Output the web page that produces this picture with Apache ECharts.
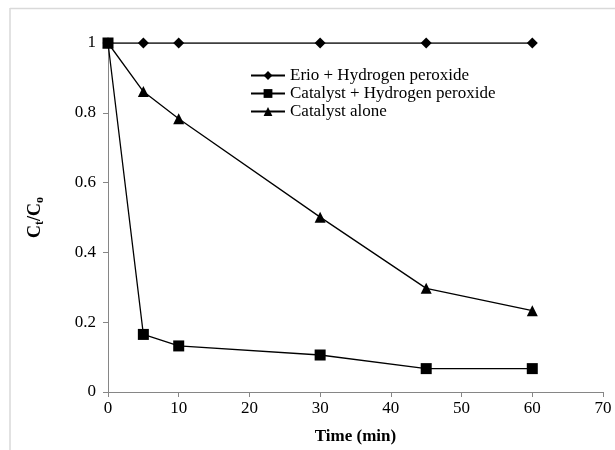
<!DOCTYPE html>
<html>
<head>
<meta charset="utf-8">
<script src="https://cdn.jsdelivr.net/npm/echarts@6/dist/echarts.min.js"></script>
<style>
html,body{margin:0;padding:0;background:#fff;}
#chart{width:615px;height:450px;}
</style>
</head>
<body>
<div id="chart"></div>
<script>
var times = [0, 5, 10, 30, 45, 60];
var erioH2O2 = [1, 1, 1, 1, 1, 1];
var catalystH2O2 = [1, 0.165, 0.132, 0.106, 0.067, 0.067];
var catalystAlone = [1, 0.861, 0.783, 0.501, 0.297, 0.233];
var seriesNames = ['Erio + Hydrogen peroxide', 'Catalyst + Hydrogen peroxide', 'Catalyst alone'];

function pairs(xs, ys) { return xs.map(function (x, i) { return [x, ys[i]]; }); }

var FONT = 'Liberation Serif';
var chart = echarts.init(document.getElementById('chart'));
var lineStyle = { color: '#000', width: 1.3 };
chart.setOption({
  animation: false,
  backgroundColor: '#fff',
  graphic: [
    { type: 'line', shape: { x1: 10, y1: 8.5, x2: 620, y2: 8.5 }, style: { stroke: '#d9d9d9', lineWidth: 1.5 } },
    { type: 'line', shape: { x1: 10, y1: 8, x2: 10, y2: 460 }, style: { stroke: '#d9d9d9', lineWidth: 1.5 } }
  ],
  grid: { left: 108, right: 12, top: 43, bottom: 56, containLabel: false },
  legend: {
    orient: 'vertical', left: 245, top: 62, itemGap: 1, itemWidth: 34, itemHeight: 11, padding: 5,
    textStyle: { fontFamily: FONT, fontSize: 17, color: '#000', lineHeight: 17 },
    data: seriesNames
  },
  xAxis: {
    type: 'value', min: 0, max: 70, interval: 10,
    name: 'Time (min)', nameLocation: 'middle', nameGap: 36,
    nameTextStyle: { fontFamily: FONT, fontSize: 17, fontWeight: 'bold', color: '#000' },
    axisLine: { lineStyle: { color: '#868686', width: 1 } },
    axisTick: { show: true, inside: false, length: 5, lineStyle: { color: '#868686' } },
    axisLabel: { fontFamily: FONT, fontSize: 17, color: '#000', margin: 8 },
    splitLine: { show: false }
  },
  yAxis: {
    type: 'value', min: 0, max: 1, interval: 0.2,
    name: '{b|C}{s|t}{b|/C}{s|o}', nameLocation: 'middle', nameGap: 62, nameRotate: 90,
    nameTextStyle: {
      fontFamily: FONT, fontSize: 18, fontWeight: 'bold', color: '#000',
      rich: {
        b: { fontFamily: FONT, fontSize: 18, fontWeight: 'bold', color: '#000', lineHeight: 22 },
        s: { fontFamily: FONT, fontSize: 12, fontWeight: 'bold', color: '#000', lineHeight: 22, verticalAlign: 'bottom', padding: [6, 0, 0, 0] }
      }
    },
    axisLine: { show: true, lineStyle: { color: '#868686', width: 1 } },
    axisTick: { show: true, inside: false, length: 5, lineStyle: { color: '#868686' } },
    axisLabel: { fontFamily: FONT, fontSize: 17, color: '#000', margin: 12 },
    splitLine: { show: false }
  },
  series: [
    { name: seriesNames[0], type: 'line', data: pairs(times, erioH2O2), symbol: 'diamond', symbolSize: 11,
      lineStyle: lineStyle, itemStyle: { color: '#000' }, z: 3 },
    { name: seriesNames[1], type: 'line', data: pairs(times, catalystH2O2), symbol: 'rect', symbolSize: 11,
      lineStyle: lineStyle, itemStyle: { color: '#000' }, z: 5 },
    { name: seriesNames[2], type: 'line', data: pairs(times, catalystAlone), symbol: 'triangle', symbolSize: 11,
      lineStyle: lineStyle, itemStyle: { color: '#000' }, z: 4 }
  ]
});
</script>
</body>
</html>
